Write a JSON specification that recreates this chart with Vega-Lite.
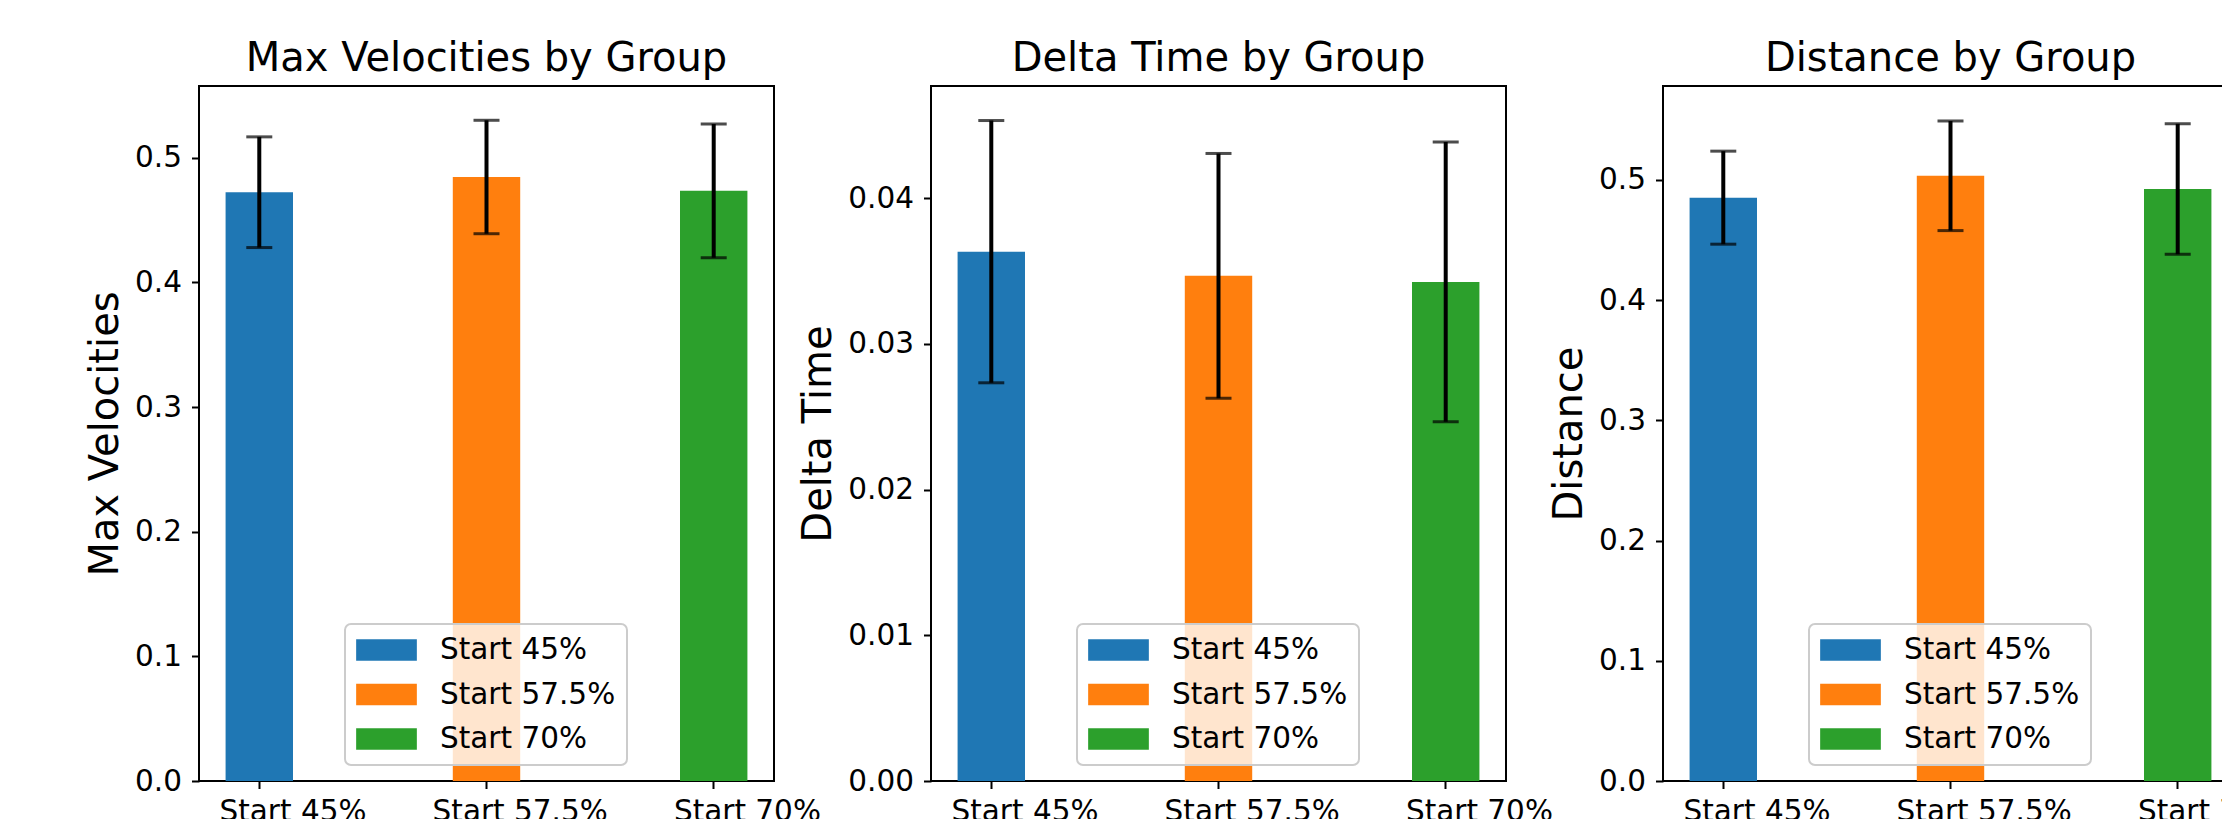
{
  "$schema": "https://vega.github.io/schema/vega-lite/v6.json",
  "padding": {"left": 84, "top": 38, "right": -62, "bottom": -7},
  "datasets": {
    "stats": [
      {"metric": "Max Velocities", "group": "Start 45%", "mean": 0.4723, "err": 0.0444},
      {"metric": "Max Velocities", "group": "Start 57.5%", "mean": 0.4845, "err": 0.0455},
      {"metric": "Max Velocities", "group": "Start 70%", "mean": 0.4734, "err": 0.0537},
      {"metric": "Delta Time", "group": "Start 45%", "mean": 0.03633, "err": 0.0090},
      {"metric": "Delta Time", "group": "Start 57.5%", "mean": 0.03467, "err": 0.0084},
      {"metric": "Delta Time", "group": "Start 70%", "mean": 0.03425, "err": 0.0096},
      {"metric": "Distance", "group": "Start 45%", "mean": 0.4853, "err": 0.0387},
      {"metric": "Distance", "group": "Start 57.5%", "mean": 0.5035, "err": 0.0456},
      {"metric": "Distance", "group": "Start 70%", "mean": 0.4925, "err": 0.0543}
    ]
  },
  "data": {"name": "stats"},
  "hconcat": [
    {
      "width": 575, "height": 695,
      "title": {"text": "Max Velocities by Group"},
      "transform": [{"filter": "datum.metric === 'Max Velocities'"}],
      "layer": [
        {
          "mark": {"type": "bar"},
          "encoding": {
            "x": {"field": "group", "type": "nominal", "sort": null, "scale": {"paddingInner": 0.7033, "paddingOuter": 0.117}, "axis": {"title": null}},
            "y": {"field": "mean", "type": "quantitative", "scale": {"domain": [0, 0.5575], "nice": false, "zero": true}, "axis": {"title": "Max Velocities", "values": [0, 0.1, 0.2, 0.3, 0.4, 0.5], "format": ".1f"}},
            "color": {"field": "group", "type": "nominal", "sort": null, "scale": {"domain": ["Start 45%", "Start 57.5%", "Start 70%"], "range": ["#1f77b4", "#ff7f0e", "#2ca02c"]}, "legend": {"orient": "none", "legendX": 146, "legendY": 538, "title": null}}
          }
        },
        {
          "mark": {"type": "errorbar", "color": "black", "thickness": 4, "ticks": {"size": 26, "thickness": 3, "color": "black"}},
          "encoding": {
            "x": {"field": "group", "type": "nominal", "sort": null},
            "y": {"field": "mean", "type": "quantitative", "title": "Max Velocities"},
            "yError": {"field": "err"}
          }
        }
      ]
    },
    {
      "width": 575, "height": 695,
      "title": {"text": "Delta Time by Group"},
      "transform": [{"filter": "datum.metric === 'Delta Time'"}],
      "layer": [
        {
          "mark": {"type": "bar"},
          "encoding": {
            "x": {"field": "group", "type": "nominal", "sort": null, "scale": {"paddingInner": 0.7033, "paddingOuter": 0.117}, "axis": {"title": null}},
            "y": {"field": "mean", "type": "quantitative", "scale": {"domain": [0, 0.0477], "nice": false, "zero": true}, "axis": {"title": "Delta Time", "values": [0, 0.01, 0.02, 0.03, 0.04], "format": ".2f"}},
            "color": {"field": "group", "type": "nominal", "sort": null, "scale": {"domain": ["Start 45%", "Start 57.5%", "Start 70%"], "range": ["#1f77b4", "#ff7f0e", "#2ca02c"]}, "legend": {"orient": "none", "legendX": 146, "legendY": 538, "title": null}}
          }
        },
        {
          "mark": {"type": "errorbar", "color": "black", "thickness": 4, "ticks": {"size": 26, "thickness": 3, "color": "black"}},
          "encoding": {
            "x": {"field": "group", "type": "nominal", "sort": null},
            "y": {"field": "mean", "type": "quantitative", "title": "Delta Time"},
            "yError": {"field": "err"}
          }
        }
      ]
    },
    {
      "width": 575, "height": 695,
      "title": {"text": "Distance by Group"},
      "transform": [{"filter": "datum.metric === 'Distance'"}],
      "layer": [
        {
          "mark": {"type": "bar"},
          "encoding": {
            "x": {"field": "group", "type": "nominal", "sort": null, "scale": {"paddingInner": 0.7033, "paddingOuter": 0.117}, "axis": {"title": null}},
            "y": {"field": "mean", "type": "quantitative", "scale": {"domain": [0, 0.5782], "nice": false, "zero": true}, "axis": {"title": "Distance", "values": [0, 0.1, 0.2, 0.3, 0.4, 0.5], "format": ".1f"}},
            "color": {"field": "group", "type": "nominal", "sort": null, "scale": {"domain": ["Start 45%", "Start 57.5%", "Start 70%"], "range": ["#1f77b4", "#ff7f0e", "#2ca02c"]}, "legend": {"orient": "none", "legendX": 146, "legendY": 538, "title": null}}
          }
        },
        {
          "mark": {"type": "errorbar", "color": "black", "thickness": 4, "ticks": {"size": 26, "thickness": 3, "color": "black"}},
          "encoding": {
            "x": {"field": "group", "type": "nominal", "sort": null},
            "y": {"field": "mean", "type": "quantitative", "title": "Distance"},
            "yError": {"field": "err"}
          }
        }
      ]
    }
  ],
  "spacing": 157,
  "bounds": "flush",
  "resolve": {"scale": {"y": "independent", "x": "independent"}, "legend": {"color": "independent"}, "axis": {"y": "independent"}},
  "config": {
    "font": "DejaVu Sans",
    "background": "white",
    "view": {"stroke": "black", "strokeWidth": 2},
    "title": {"fontSize": 40, "fontWeight": "normal", "color": "black", "anchor": "middle", "frame": "group", "offset": 7},
    "axis": {
      "domain": false, "grid": false,
      "labelFontSize": 29.5, "labelColor": "black", "labelFont": "DejaVu Sans",
      "tickColor": "black", "tickSize": 7.5, "tickWidth": 2,
      "titleFontSize": 40, "titleFontWeight": "normal", "titleColor": "black", "titleFont": "DejaVu Sans"
    },
    "axisY": {"labelPadding": 10, "titlePadding": 9},
    "axisX": {"labelAngle": 0, "labelPadding": 8.5, "tickOffset": 33.7, "labelOffset": 33.7},
    "legend": {
      "symbolType": "M-1,-0.357H1V0.357H-1Z", "symbolSize": 3684, "symbolStrokeWidth": 0, "symbolOpacity": 1,
      "labelFontSize": 29.5, "labelFont": "DejaVu Sans", "labelColor": "black", "labelOffset": 23, "labelLimit": 400,
      "clipHeight": 30, "rowPadding": 14.5, "padding": 11,
      "fillColor": "rgba(255,255,255,0.8)", "strokeColor": "#cccccc", "strokeWidth": 2, "cornerRadius": 6
    }
  }
}
